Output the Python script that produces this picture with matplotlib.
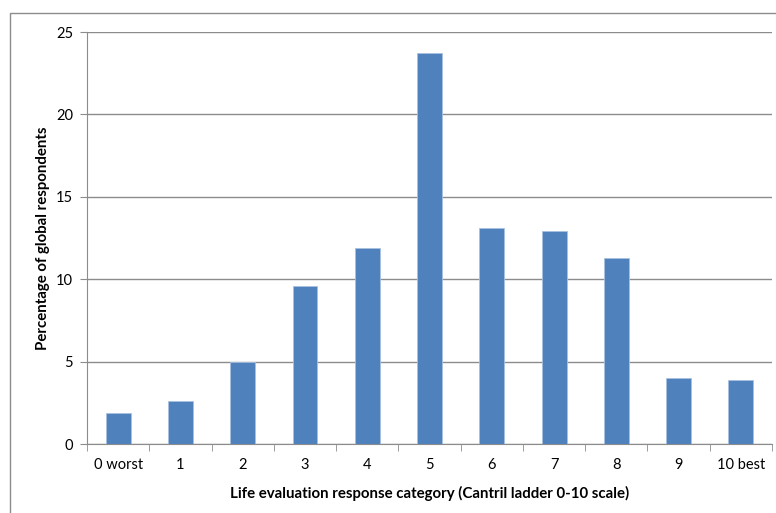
import matplotlib
matplotlib.use("Agg")

import numpy as np
import matplotlib.pyplot as plt
from matplotlib.patches import Rectangle

categories = ["0 worst", "1", "2", "3", "4", "5", "6", "7", "8", "9", "10 best"]
percentages = [1.9, 2.6, 5.0, 9.6, 11.9, 23.7, 13.1, 12.9, 11.3, 4.0, 3.9]

plt.rcParams["font.family"] = ["Lato", "DejaVu Sans"]

fig = plt.figure(figsize=(7.76, 5.13), dpi=100)
ax = fig.add_axes([87 / 776, 1 - 444 / 513, 685 / 776, 412 / 513])

# outer chart frame, cut off at right and bottom in the original
fig.patches.append(Rectangle((10 / 776, -0.1), 1.2, 1 - 13 / 513 + 0.1,
                             transform=fig.transFigure, fill=False,
                             edgecolor="#8c8c8c", linewidth=1.0))

x = np.arange(len(categories))
ax.bar(x, percentages, width=0.4, color="#4f81bd", edgecolor="#a9c1e0",
       linewidth=0.6, zorder=3)

ax.set_xlim(-0.5, len(categories) - 0.5)
ax.set_ylim(0, 25)
ax.set_yticks([0, 5, 10, 15, 20, 25])
ax.yaxis.grid(True, color="#8c8c8c", linewidth=1.0, zorder=0)
ax.set_axisbelow(True)

ax.set_xticks(x)
ax.set_xticklabels(categories, fontsize=10.5)
ax.tick_params(axis="x", length=0, pad=10)
ax.set_xticks(np.arange(-0.5, len(categories)), minor=True)
ax.tick_params(axis="x", which="minor", length=5, color="#8c8c8c")
ax.tick_params(axis="y", labelsize=10.5, length=5, color="#8c8c8c", pad=5)

for side in ["top", "right"]:
    ax.spines[side].set_visible(False)
for side in ["left", "bottom"]:
    ax.spines[side].set_color("#8c8c8c")

ax.set_xlabel("Life evaluation response category (Cantril ladder 0-10 scale)",
              fontsize=10.8, fontweight="bold", labelpad=10)
ax.set_ylabel("Percentage of global respondents", fontsize=10.8,
              fontweight="bold", labelpad=4)

fig.savefig("out.png", dpi=100)
